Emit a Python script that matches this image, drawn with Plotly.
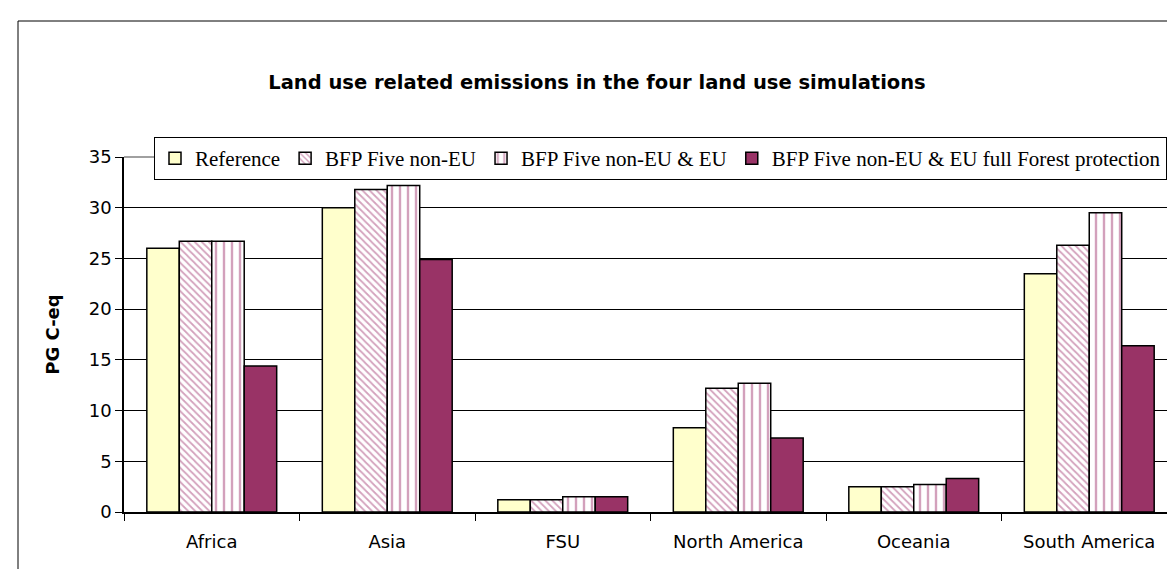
import plotly.graph_objects as go

categories = ["Africa", "Asia", "FSU", "North America", "Oceania", "South America"]
series_names = [
    "Reference",
    "BFP Five non-EU",
    "BFP Five non-EU & EU",
    "BFP Five non-EU & EU full Forest protection",
]
reference = [26.0, 30.0, 1.2, 8.3, 2.5, 23.5]
bfp_non_eu = [26.7, 31.8, 1.2, 12.2, 2.5, 26.3]
bfp_non_eu_eu = [26.7, 32.2, 1.5, 12.7, 2.7, 29.5]
bfp_full_forest = [14.4, 24.9, 1.5, 7.3, 3.3, 16.4]
y_ticks = [0, 5, 10, 15, 20, 25, 30, 35]

W, H = 1175, 569
L, R, T, B = 116, 6, 149, 65
pw, ph = W - L - R, H - T - B

def px_x(x):
    return (x - L) / pw

def px_y(y):
    return (H - B - y) / ph

outline = dict(color="#000000", width=1.5)
pink = "#a8447a"

fig = go.Figure()
fig.add_trace(go.Bar(name=series_names[0], x=categories, y=reference,
                     marker=dict(color="#FFFFCC", line=outline)))
fig.add_trace(go.Bar(name=series_names[1], x=categories, y=bfp_non_eu,
                     marker=dict(color="#FFFFFF", line=outline,
                                 pattern=dict(shape="\\", fgcolor=pink, bgcolor="#FFFFFF",
                                              size=5, solidity=0.35))))
fig.add_trace(go.Bar(name=series_names[2], x=categories, y=bfp_non_eu_eu,
                     marker=dict(color="#FFFFFF", line=outline,
                                 pattern=dict(shape="|", fgcolor=pink, bgcolor="#FFFFFF",
                                              size=8, solidity=0.3))))
fig.add_trace(go.Bar(name=series_names[3], x=categories, y=bfp_full_forest,
                     marker=dict(color="#993366", line=outline)))

shapes = [
    # outer chart border (extends beyond the visible page on right/bottom)
    dict(type="rect", xref="paper", yref="paper",
         x0=px_x(10), x1=px_x(1185), y0=px_y(585), y1=px_y(13),
         line=dict(color="#000000", width=1), fillcolor="rgba(0,0,0,0)", layer="above"),
    # plot area border top and right (gray)
    dict(type="line", xref="paper", yref="paper", x0=0, x1=1, y0=1, y1=1,
         line=dict(color="#808080", width=1.5), layer="below"),
    dict(type="line", xref="paper", yref="paper", x0=1, x1=1, y0=0, y1=1,
         line=dict(color="#808080", width=1.5), layer="above"),
]

fig.update_layout(
    width=W, height=H,
    margin=dict(l=L, r=R, t=T, b=B),
    paper_bgcolor="#FFFFFF", plot_bgcolor="#FFFFFF",
    barmode="group", bargap=0.26, bargroupgap=0.0,
    title=dict(text="<b>Land use related emissions in the four land use simulations</b>",
               x=589 / W, xref="container", xanchor="center",
               y=1 - 74 / H, yref="container", yanchor="middle",
               font=dict(family="DejaVu Sans", size=19.5, color="#000000")),
    legend=dict(orientation="h", x=px_x(146), xanchor="left", y=px_y(129), yanchor="top",
                bgcolor="#FFFFFF", bordercolor="#000000", borderwidth=1,
                font=dict(family="Liberation Serif", size=21, color="#000000"),
                itemwidth=30, traceorder="normal"),
    xaxis=dict(type="category", showline=True, linecolor="#000000", linewidth=1.5,
               ticks="outside", tickson="boundaries", ticklen=7, tickcolor="#000000",
               tickfont=dict(family="DejaVu Sans", size=18, color="#000000"),
               ticklabelstandoff=13, showgrid=False),
    yaxis=dict(range=[0, 35], tickvals=y_ticks, showline=True, linecolor="#000000",
               linewidth=1.5, ticks="outside", ticklen=7, tickcolor="#000000",
               showgrid=True, gridcolor="#000000", gridwidth=1, zeroline=False,
               tickfont=dict(family="DejaVu Sans", size=18, color="#000000"),
               ticklabelstandoff=0,
               title=dict(text="<b>PG C-eq</b>", standoff=24,
                          font=dict(family="DejaVu Sans", size=18, color="#000000"))),
    shapes=shapes,
)

fig.write_html("out.html")
